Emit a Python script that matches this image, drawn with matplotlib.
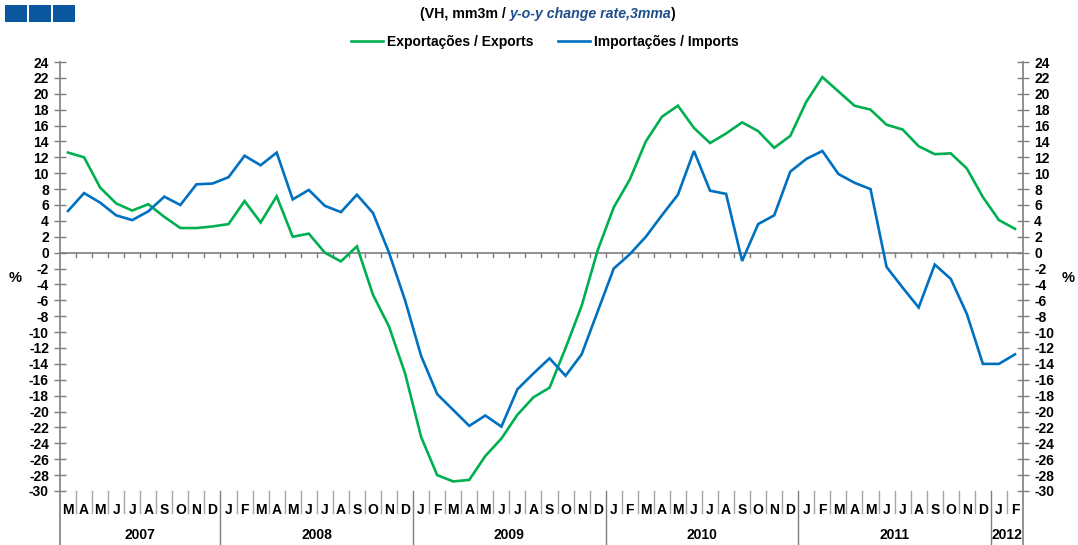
import matplotlib
matplotlib.use("Agg")
import matplotlib.pyplot as plt
from matplotlib import font_manager
from matplotlib.lines import Line2D
from matplotlib.patches import Rectangle

# ---------------- data ----------------
months = ["M", "A", "M", "J", "J", "A", "S", "O", "N", "D",
          "J", "F", "M", "A", "M", "J", "J", "A", "S", "O", "N", "D",
          "J", "F", "M", "A", "M", "J", "J", "A", "S", "O", "N", "D",
          "J", "F", "M", "A", "M", "J", "J", "A", "S", "O", "N", "D",
          "J", "F", "M", "A", "M", "J", "J", "A", "S", "O", "N", "D",
          "J", "F"]
years = ["2007", "2008", "2009", "2010", "2011", "2012"]
year_counts = [10, 12, 12, 12, 12, 2]

exports = [12.6, 12.0, 8.2, 6.2, 5.3, 6.1, 4.5, 3.1, 3.1, 3.3,
           3.6, 6.5, 3.8, 7.1, 2.0, 2.4, 0.0, -1.1, 0.8, -5.3, -9.3,
           -15.2, -23.2, -28.0, -28.8, -28.6, -25.6, -23.4, -20.4, -18.2, -17.0, -12.0, -6.7, 0.3,
           5.7, 9.2, 14.0, 17.1, 18.5, 15.7, 13.8, 15.0, 16.4, 15.3, 13.2, 14.7,
           19.0, 22.1, 20.3, 18.5, 18.0, 16.1, 15.5, 13.4, 12.4, 12.5, 10.6, 7.0,
           4.1, 3.0]
imports = [5.25, 7.5, 6.3, 4.7, 4.1, 5.2, 7.05, 6.0, 8.6, 8.7,
           9.5, 12.2, 11.0, 12.6, 6.7, 7.9, 5.9, 5.1, 7.3, 5.0, 0.0,
           -6.0, -13.0, -17.8, -19.8, -21.8, -20.5, -21.9, -17.2, -15.2, -13.3, -15.5, -12.8, -7.4,
           -2.0, -0.2, 2.0, 4.7, 7.3, 12.8, 7.8, 7.4, -1.05, 3.6, 4.7, 10.2,
           11.8, 12.8, 9.9, 8.8, 8.0, -1.8, -4.4, -6.9, -1.5, -3.3, -7.7, -14.0,
           -14.0, -12.8]
y_ticks = list(range(-30, 25, 2))

# ---------------- style ----------------
names = {f.name for f in font_manager.fontManager.ttflist}
FONT = "Liberation Sans Narrow" if "Liberation Sans Narrow" in names else "Liberation Sans"
plt.rcParams["font.family"] = [FONT, "DejaVu Sans"]
plt.rcParams["axes.unicode_minus"] = False

GREEN = "#00b050"
BLUE = "#0070c0"
AXC = "#7f7f7f"
W, H = 1078, 545

fig = plt.figure(figsize=(W / 100, H / 100), dpi=100)
ax = fig.add_axes([60 / W, (H - 491) / H, 963 / W, 429 / H])

n = len(months)
x = list(range(n))
ax.plot(x, exports, color=GREEN, lw=1.9, solid_joinstyle="miter", label="Exportações / Exports")
ax.plot(x, imports, color=BLUE, lw=1.9, solid_joinstyle="miter", label="Importações / Imports")

ax.set_xlim(-0.5, n - 0.5)
ax.set_ylim(-30, 24)
for s in ax.spines.values():
    s.set_visible(False)

ax.set_xticks([])
ax.set_yticks(y_ticks)
ax.tick_params(axis="y", which="both", direction="inout", length=8, width=1, color=AXC,
               left=True, right=True, labelleft=True, labelright=True, pad=4)
for lab in ax.get_yticklabels():
    lab.set_fontweight("bold")
    lab.set_fontsize(10)

# zero line with category ticks
ax.axhline(0, color=AXC, lw=1.2, zorder=1)
for k in range(1, n):
    ax.plot([k - 0.5, k - 0.5], [0, -0.55], color=AXC, lw=1, zorder=1)

# vertical axis lines (extended through the category area)
yb = (491 - H) / 429.0
for xa in (0, 1):
    ax.add_line(Line2D([xa, xa], [yb, 1], transform=ax.transAxes, color=AXC, lw=1.2, clip_on=False))

# month separators and labels
trans = ax.get_xaxis_transform()
sep_bot = -(513 - 491) / 429.0
year_starts = []
acc = 0
for c in year_counts:
    year_starts.append(acc)
    acc += c
for k in range(1, n):
    if k in year_starts:
        ax.plot([k - 0.5, k - 0.5], [0, yb], transform=trans, color=AXC, lw=1.0, clip_on=False)
    else:
        ax.plot([k - 0.5, k - 0.5], [0, sep_bot], transform=trans, color="#a6a6a6", lw=1.0, clip_on=False)
for i, m in enumerate(months):
    ax.text(i, -(510 - 491) / 429.0, m, transform=trans, ha="center", va="center",
            fontsize=10, fontweight="bold")
for yl, st, c in zip(years, year_starts, year_counts):
    ax.text(st + (c - 1) / 2.0, -(535 - 491) / 429.0, yl, transform=trans, ha="center",
            va="center", fontsize=10, fontweight="bold")

# % labels
fig.text(15 / W, 1 - 278 / H, "%", ha="center", va="center", fontsize=10.5, fontweight="bold")
fig.text(1068 / W, 1 - 278 / H, "%", ha="center", va="center", fontsize=10.5, fontweight="bold")

# legend
leg = ax.legend(loc="center", bbox_to_anchor=(545 / W, 1 - 42 / H), bbox_transform=fig.transFigure,
                ncol=2, frameon=False, prop={"size": 10, "weight": "bold"}, handlelength=2.3,
                handletextpad=0.25, columnspacing=1.8)

# title (mixed style)
renderer = fig.canvas.get_renderer()
parts = [("(VH, mm3m / ", "normal", "black"),
         ("y-o-y change rate,3mma", "italic", "#1f4e8c"),
         (")", "normal", "black")]
xpos = 420 / W
for txt, style, col in parts:
    t = fig.text(xpos, 1 - 14 / H, txt, ha="left", va="center", fontsize=10.2,
                 fontweight="bold", fontstyle=style, color=col)
    bb = t.get_window_extent(renderer=renderer)
    xpos = bb.x1 / W

# blue squares
for i in range(3):
    fig.patches.append(Rectangle(((5 + i * 24) / W, 1 - 22 / H), 22 / W, 17 / H,
                                 transform=fig.transFigure, facecolor="#0a57a0",
                                 edgecolor="none", figure=fig))

fig.savefig("out.png", dpi=100)
